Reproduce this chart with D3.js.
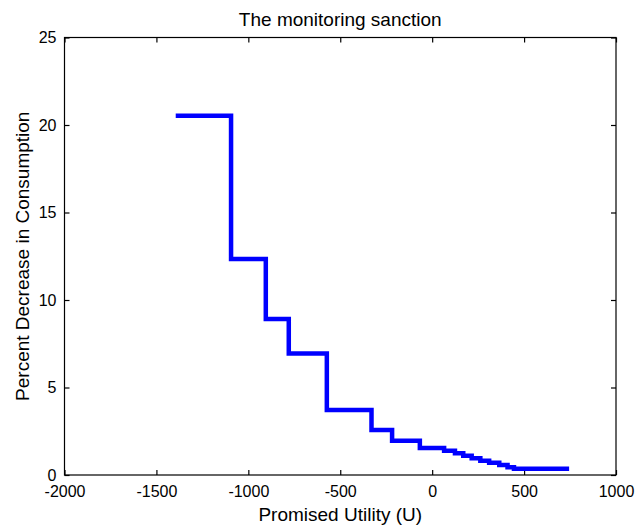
<!DOCTYPE html>
<html><head><meta charset="utf-8">
<script src="https://cdn.jsdelivr.net/npm/d3@7"></script>
<style>
body{margin:0;background:#fff;}
text{font-family:"Liberation Sans",Arial,sans-serif;fill:#000;}
</style></head>
<body>
<svg id="c" width="636" height="529"></svg>
<script>
const utility = [-1395, -1094, -905, -780, -573, -330, -218, -67, 65, 124, 169, 215, 262, 310, 365, 410, 445, 745];
const decrease = [20.53, 12.34, 8.91, 6.95, 3.71, 2.57, 1.96, 1.55, 1.38, 1.24, 1.10, 0.96, 0.82, 0.70, 0.57, 0.45, 0.36, 0.36];
const xTicks = [-2000, -1500, -1000, -500, 0, 500, 1000];
const yTicks = [0, 5, 10, 15, 20, 25];
const title = "The monitoring sanction";
const xLabel = "Promised Utility (U)";
const yLabel = "Percent Decrease in Consumption";

const svg = d3.select("#c");
const L = 64.5, R = 616, T = 37.5, B = 475;
const x = d3.scaleLinear().domain([-2000, 1000]).range([L, R]);
const y = d3.scaleLinear().domain([0, 25]).range([B, T]);
const fmt = d => String(d);

svg.append("rect").attr("x", L).attr("y", T).attr("width", R - L).attr("height", B - T)
  .attr("fill", "none").attr("stroke", "#000").attr("stroke-width", 1.2);

const tl = 5;
const gx = svg.append("g").attr("transform", `translate(0,${B})`)
  .call(d3.axisBottom(x).tickValues(xTicks).tickSizeInner(-tl).tickSizeOuter(0).tickPadding(tl + 4).tickFormat(fmt));
const gy = svg.append("g").attr("transform", `translate(${L},0)`)
  .call(d3.axisLeft(y).tickValues(yTicks).tickSizeInner(-tl).tickSizeOuter(0).tickPadding(tl + 3).tickFormat(fmt));
const gx2 = svg.append("g").attr("transform", `translate(0,${T})`)
  .call(d3.axisTop(x).tickValues(xTicks).tickSizeInner(-tl).tickSizeOuter(0).tickFormat(""));
const gy2 = svg.append("g").attr("transform", `translate(${R},0)`)
  .call(d3.axisRight(y).tickValues(yTicks).tickSizeInner(-tl).tickSizeOuter(0).tickFormat(""));
[gx, gy, gx2, gy2].forEach(g => {
  g.select(".domain").remove();
  g.selectAll("line").attr("stroke", "#000").attr("stroke-width", 1.2);
  g.selectAll("text").attr("font-size", 16).attr("font-family", "Liberation Sans, Arial, sans-serif").attr("fill", "#000");
});
gx.selectAll("text").attr("dy", null).attr("y", 22);

const line = d3.line().x((d, i) => x(utility[i])).y(d => y(d)).curve(d3.curveStepAfter);
svg.append("path").datum(decrease).attr("d", line)
  .attr("fill", "none").attr("stroke", "#0000ff").attr("stroke-width", 4.5)
  .attr("stroke-linejoin", "miter");

svg.append("text").attr("x", (L + R) / 2).attr("y", 26).attr("text-anchor", "middle")
  .attr("font-size", 19).text(title);
svg.append("text").attr("x", (L + R) / 2).attr("y", 521).attr("text-anchor", "middle")
  .attr("font-size", 19).text(xLabel);
svg.append("text").attr("transform", `translate(29,${(T + B) / 2}) rotate(-90)`)
  .attr("text-anchor", "middle").attr("font-size", 19).text(yLabel);
</script>
</body></html>
